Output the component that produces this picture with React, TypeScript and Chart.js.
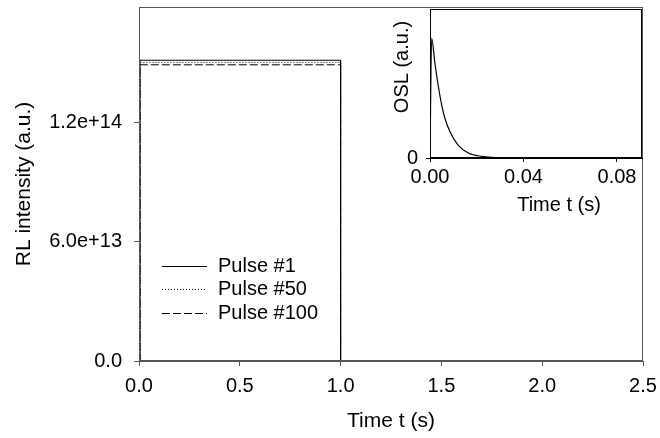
import { useEffect, useRef } from "react"
import { Chart, registerables } from "chart.js"

Chart.register(...registerables)

const FONT = "'Liberation Sans', Arial, Helvetica, sans-serif"

// Main plot: RL pulses (step shape: on at t≈0, off at t=1 s)
const pulseTimes = [0, 0.005, 0.005, 1.0, 1.0, 2.5]
const pulse1 = [0, 0, 1.514e14, 1.514e14, 0, 0]
const pulse50 = [0, 0, 1.503e14, 1.503e14, 0, 0]
const pulse100 = [0, 0, 1.491e14, 1.491e14, 0, 0]
const pulseLabels = ["Pulse #1", "Pulse #50", "Pulse #100"]
const rlTicks = [0, 6e13, 1.2e14]
const rlTickLabels = ["0.0", "6.0e+13", "1.2e+14"]
const timeTicks = [0, 0.5, 1.0, 1.5, 2.0, 2.5]
const timeTickLabels = ["0.0", "0.5", "1.0", "1.5", "2.0", "2.5"]

// Inset: OSL decay
const oslTimes = [0, 0.0007, 0.0021, 0.0036, 0.005, 0.0064, 0.0086, 0.0121, 0.0164, 0.0221, 0.0264, 0.035, 0.05, 0.09]
const oslValues = [0, 0.804, 0.636, 0.478, 0.355, 0.265, 0.175, 0.085, 0.034, 0.011, 0.0045, 0.001, 0, 0]
const oslTimeTicks = [0, 0.04, 0.08]
const oslTimeTickLabels = ["0.00", "0.04", "0.08"]
const oslTicks = [0]
const oslTickLabels = ["0"]

const toPoints = (xs: number[], ys: number[]) => xs.map((x, i) => ({ x, y: ys[i] }))

// draws a box around the plot area
const framePlugin = {
  id: "frame",
  afterDraw(chart: any) {
    const opts = chart.options.plugins.frame
    if (!opts) return
    const { ctx, chartArea } = chart
    const l = Math.round(chartArea.left) + 0.5
    const t = Math.round(chartArea.top) + 0.5
    const r = Math.round(chartArea.right) - 0.5
    const b = Math.round(chartArea.bottom) - 0.5
    ctx.save()
    ctx.strokeStyle = opts.color
    ctx.lineWidth = 1
    ctx.strokeRect(l, t, r - l, b - t)
    ctx.restore()
  },
}

// legend with line samples placed inside the plot
const lineLegendPlugin = {
  id: "lineLegend",
  afterDraw(chart: any) {
    const opts = chart.options.plugins.lineLegend
    if (!opts) return
    const { ctx } = chart
    ctx.save()
    ctx.font = `${opts.fontSize}px ${FONT}`
    ctx.textBaseline = "middle"
    ctx.fillStyle = "#000"
    chart.data.datasets.forEach((ds: any, i: number) => {
      const y = Math.round(opts.top + i * opts.rowHeight) + 0.5
      ctx.beginPath()
      ctx.setLineDash(ds.borderDash || [])
      ctx.strokeStyle = ds.borderColor
      ctx.lineWidth = ds.borderWidth
      ctx.moveTo(opts.left, y)
      ctx.lineTo(opts.left + opts.lineLength, y)
      ctx.stroke()
      ctx.setLineDash([])
      ctx.fillText(ds.label, opts.left + opts.lineLength + opts.gap, y)
    })
    ctx.restore()
  },
}

// free-positioned axis titles (used by the inset)
const freeTitlesPlugin = {
  id: "freeTitles",
  afterDraw(chart: any) {
    const items = chart.options.plugins.freeTitles?.items
    if (!items) return
    const { ctx } = chart
    items.forEach((it: any) => {
      ctx.save()
      ctx.translate(it.x, it.y)
      ctx.rotate(it.rotation || 0)
      ctx.font = `${it.size}px ${FONT}`
      ctx.fillStyle = "#000"
      ctx.textAlign = "center"
      ctx.textBaseline = "middle"
      ctx.fillText(it.text, 0, 0)
      ctx.restore()
    })
  },
}

function MainChart() {
  const chartRef = useRef<HTMLCanvasElement>(null)

  useEffect(() => {
    if (!chartRef.current) return
    const ctx = chartRef.current.getContext("2d")
    if (!ctx) return

    const chart = new Chart(ctx, {
      type: "scatter",
      data: {
        datasets: [
          { label: pulseLabels[0], data: toPoints(pulseTimes, pulse1), borderColor: "#000", borderWidth: 1, borderDash: [] },
          { label: pulseLabels[1], data: toPoints(pulseTimes, pulse50), borderColor: "#000", borderWidth: 1, borderDash: [1, 2] },
          { label: pulseLabels[2], data: toPoints(pulseTimes, pulse100), borderColor: "#000", borderWidth: 1, borderDash: [8, 3] },
        ].map((ds) => ({ ...ds, showLine: true, pointRadius: 0, tension: 0 })),
      },
      options: {
        animation: false,
        responsive: false,
        events: [],
        layout: { padding: { left: 0, top: 7, right: 17, bottom: 0 } },
        plugins: {
          legend: { display: false },
          tooltip: { enabled: false },
          frame: { color: "#555" },
          lineLegend: { left: 162, top: 266, rowHeight: 23.3, lineLength: 45, gap: 11, fontSize: 20 },
        } as any,
        scales: {
          x: {
            type: "linear",
            min: 0,
            max: 2.5,
            afterBuildTicks: (s: any) => {
              s.ticks = timeTicks.map((v) => ({ value: v }))
            },
            afterFit: (s: any) => {
              s.height = 77
              s.paddingLeft = 0
              s.paddingRight = 0
            },
            ticks: {
              callback: (_v: any, i: number) => timeTickLabels[i],
              color: "#000",
              font: { family: FONT, size: 20 },
              padding: 8,
              maxRotation: 0,
              autoSkip: false,
            },
            grid: { drawOnChartArea: false, drawTicks: true, tickLength: 5, color: "#555" },
            border: { display: true, color: "#555" },
            title: {
              display: true,
              text: "Time t (s)",
              color: "#000",
              font: { family: FONT, size: 21 },
              padding: { top: 0, bottom: 4 },
            },
          },
          y: {
            type: "linear",
            min: 0,
            max: 1.782e14,
            afterBuildTicks: (s: any) => {
              s.ticks = rlTicks.map((v) => ({ value: v }))
            },
            afterFit: (s: any) => {
              s.width = 139
              s.paddingTop = 0
              s.paddingBottom = 0
            },
            ticks: {
              callback: (_v: any, i: number) => rlTickLabels[i],
              color: "#000",
              font: { family: FONT, size: 20 },
              padding: 12,
              autoSkip: false,
            },
            grid: { drawOnChartArea: false, drawTicks: true, tickLength: 5, color: "#555" },
            border: { display: true, color: "#555" },
            title: {
              display: true,
              text: "RL intensity (a.u.)",
              color: "#000",
              font: { family: FONT, size: 21 },
              padding: { top: 12, bottom: 0 },
            },
          },
        },
      },
      plugins: [framePlugin, lineLegendPlugin],
    })

    return () => chart.destroy()
  }, [])

  return <canvas ref={chartRef} width={660} height={438} style={{ position: "absolute", left: 0, top: 0 }} />
}

function InsetChart() {
  const chartRef = useRef<HTMLCanvasElement>(null)

  useEffect(() => {
    if (!chartRef.current) return
    const ctx = chartRef.current.getContext("2d")
    if (!ctx) return

    const chart = new Chart(ctx, {
      type: "scatter",
      data: {
        datasets: [
          {
            label: "OSL",
            data: toPoints(oslTimes, oslValues),
            showLine: true,
            pointRadius: 0,
            borderColor: "#000",
            borderWidth: 1.2,
            cubicInterpolationMode: "monotone",
          },
        ],
      },
      options: {
        animation: false,
        responsive: false,
        events: [],
        layout: { padding: { left: 380, top: 9, right: 18, bottom: 0 } },
        plugins: {
          legend: { display: false },
          tooltip: { enabled: false },
          frame: { color: "#000" },
          freeTitles: {
            items: [
              { text: "OSL (a.u.)", x: 402, y: 67, rotation: -Math.PI / 2, size: 20 },
              { text: "Time t (s)", x: 559, y: 205, rotation: 0, size: 20 },
            ],
          },
        } as any,
        scales: {
          x: {
            type: "linear",
            min: 0,
            max: 0.0907,
            afterBuildTicks: (s: any) => {
              s.ticks = oslTimeTicks.map((v) => ({ value: v }))
            },
            afterFit: (s: any) => {
              s.height = 280
              s.paddingLeft = 0
              s.paddingRight = 0
            },
            ticks: {
              callback: (_v: any, i: number) => oslTimeTickLabels[i],
              color: "#000",
              font: { family: FONT, size: 20 },
              padding: 3,
              maxRotation: 0,
              autoSkip: false,
            },
            grid: { drawOnChartArea: false, drawTicks: true, tickLength: 4, color: "#000" },
            border: { display: true, color: "#000" },
          },
          y: {
            type: "linear",
            min: 0,
            max: 1,
            afterBuildTicks: (s: any) => {
              s.ticks = oslTicks.map((v) => ({ value: v }))
            },
            afterFit: (s: any) => {
              s.width = 50
              s.paddingTop = 0
              s.paddingBottom = 0
            },
            ticks: {
              callback: (_v: any, i: number) => oslTickLabels[i],
              color: "#000",
              font: { family: FONT, size: 20 },
              padding: 8,
              autoSkip: false,
            },
            grid: { drawOnChartArea: false, drawTicks: true, tickLength: 4, color: "#000" },
            border: { display: true, color: "#000" },
          },
        },
      },
      plugins: [framePlugin, freeTitlesPlugin],
    })

    return () => chart.destroy()
  }, [])

  return <canvas ref={chartRef} width={660} height={438} style={{ position: "absolute", left: 0, top: 0 }} />
}

export default function App() {
  return (
    <div style={{ position: "fixed", left: 0, top: 0, width: 660, height: 438, background: "#fff" }}>
      <MainChart />
      <InsetChart />
    </div>
  )
}
